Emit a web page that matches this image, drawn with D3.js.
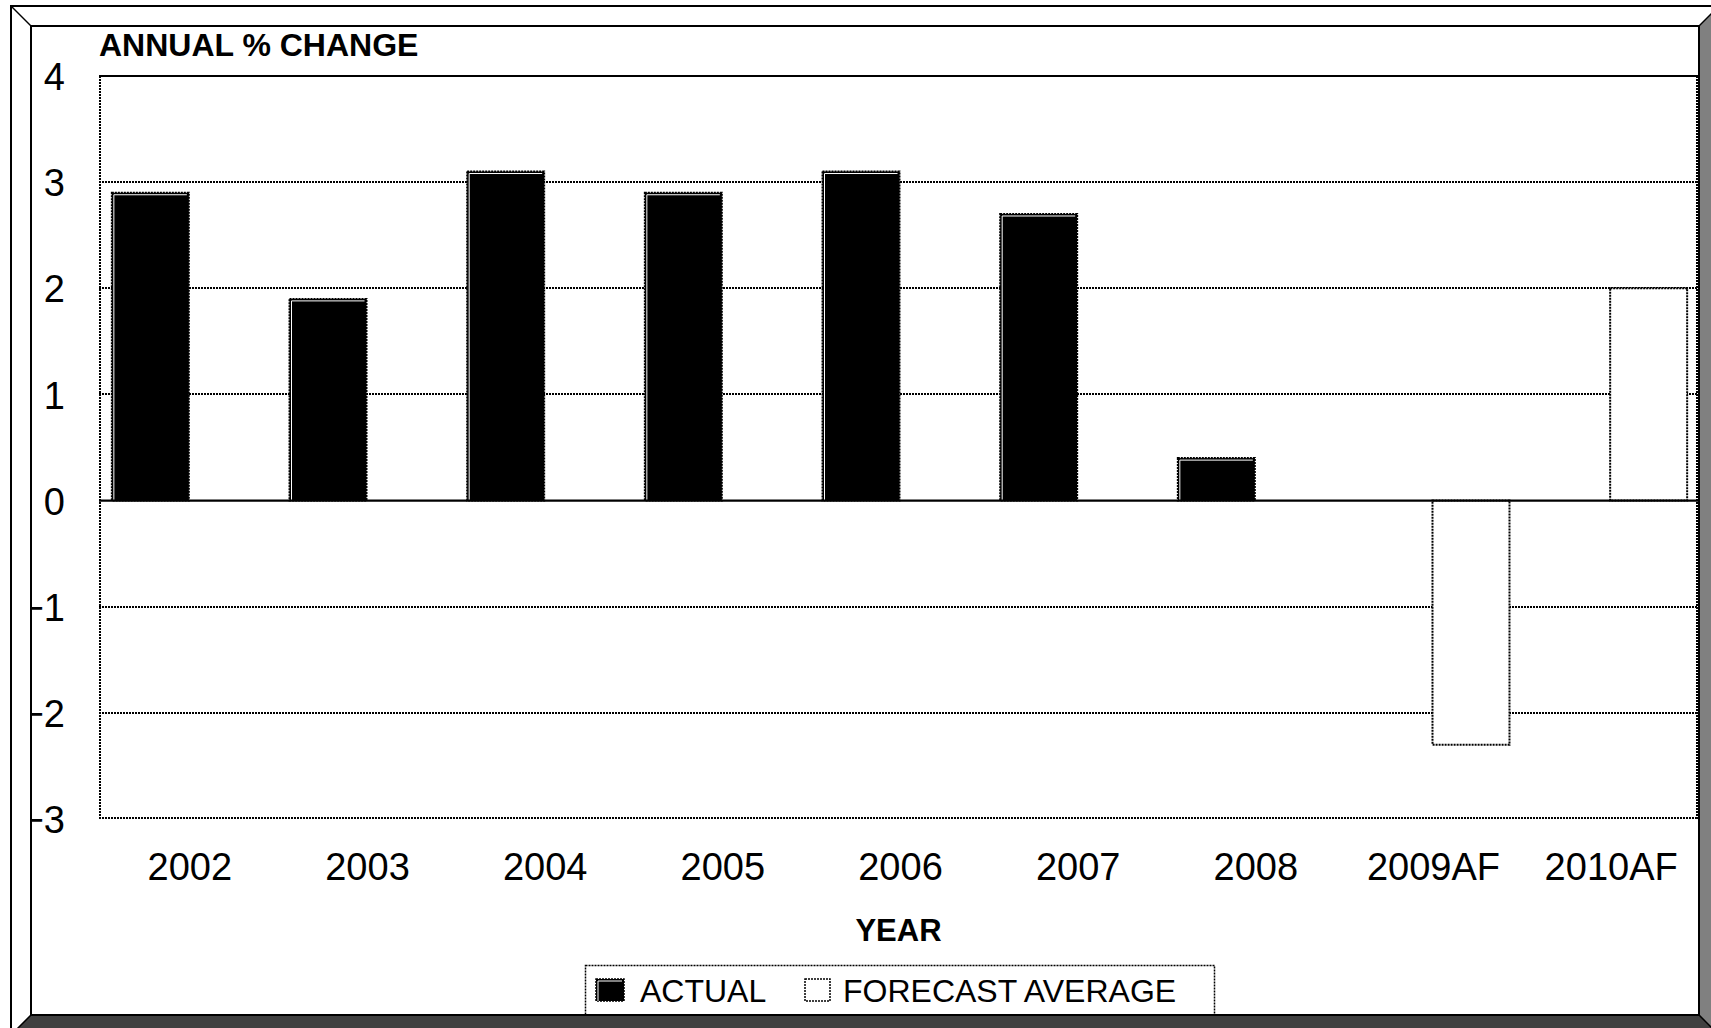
<!DOCTYPE html>
<html>
<head>
<meta charset="utf-8">
<script src="https://cdn.jsdelivr.net/npm/d3@7"></script>
<style>
  html, body { margin: 0; padding: 0; background: #fff; }
  svg { display: block; }
  text { font-family: "Liberation Sans", Arial, Helvetica, sans-serif; fill: #000; }
</style>
</head>
<body>
<svg id="chart" width="1711" height="1028"></svg>
<script>
// Annual % change, actual vs. forecast average
const years = ["2002", "2003", "2004", "2005", "2006", "2007", "2008", "2009AF", "2010AF"];
const actual = [2.9, 1.9, 3.1, 2.9, 3.1, 2.7, 0.4, null, null];
const forecastAverage = [null, null, null, null, null, null, null, -2.3, 2.0];
const yTicks = [4, 3, 2, 1, 0, -1, -2, -3];
const seriesNames = ["ACTUAL", "FORECAST AVERAGE"];

const W = 1711, H = 1028;
const svg = d3.select("#chart");
svg.append("rect").attr("width", W).attr("height", H).attr("fill", "#fff");

// plot area
const plot = { left: 99, right: 1698, top: 76, bottom: 819 };

const y = d3.scaleLinear().domain([-3, 4]).range([plot.bottom, plot.top]);
const x0 = d3.scaleBand().domain(years).range([plot.left + 1, plot.right + 1])
  .paddingInner(0.1333).paddingOuter(0.0667);
const x1 = d3.scaleBand().domain(["actual", "forecast"]).range([0, x0.bandwidth()]);

const dotted = "2,1";
const dotStroke = "#000";

// gridlines
const grid = svg.append("g");
grid.selectAll("line.grid")
  .data(yTicks.filter(t => t !== 0 && t !== 4 && t !== -3))
  .join("line")
  .attr("class", "grid")
  .attr("x1", plot.left).attr("x2", plot.right)
  .attr("y1", d => Math.round(y(d))).attr("y2", d => Math.round(y(d)))
  .attr("stroke", dotStroke).attr("stroke-width", 2).attr("stroke-dasharray", dotted);

// plot border: solid top, dotted sides and bottom
svg.append("line")
  .attr("x1", plot.left).attr("x2", plot.right)
  .attr("y1", y(4)).attr("y2", y(4))
  .attr("stroke", "#000").attr("stroke-width", 2);
svg.append("line")
  .attr("x1", plot.left + 1).attr("x2", plot.left + 1)
  .attr("y1", plot.top).attr("y2", plot.bottom)
  .attr("stroke", dotStroke).attr("stroke-width", 2).attr("stroke-dasharray", dotted);
svg.append("line")
  .attr("x1", plot.right - 1).attr("x2", plot.right - 1)
  .attr("y1", plot.top).attr("y2", plot.bottom)
  .attr("stroke", dotStroke).attr("stroke-width", 2).attr("stroke-dasharray", dotted);
svg.append("line")
  .attr("x1", plot.left).attr("x2", plot.right)
  .attr("y1", Math.round(y(-3)) - 1).attr("y2", Math.round(y(-3)) - 1)
  .attr("stroke", dotStroke).attr("stroke-width", 2).attr("stroke-dasharray", dotted);

// bars
const rows = years.map((yr, i) => ({ year: yr, actual: actual[i], forecast: forecastAverage[i] }));
const barG = svg.append("g");

rows.forEach(r => {
  if (r.actual != null) {
    const bx = x0(r.year) + x1("actual"), bw = x1.bandwidth();
    const top = y(Math.max(0, r.actual)), bot = y(Math.min(0, r.actual));
    barG.append("rect")
      .attr("x", bx).attr("y", top).attr("width", bw).attr("height", bot - top)
      .attr("fill", "#000").attr("stroke", "#000").attr("stroke-width", 2)
      .attr("stroke-dasharray", dotted);
    // light inner edge on the top and left sides
    barG.append("path")
      .attr("d", `M${bx + 2},${bot} V${top + 2} H${bx + bw - 2}`)
      .attr("fill", "none").attr("stroke", "#fff").attr("stroke-width", 1);
  }
  if (r.forecast != null) {
    const bx = x0(r.year) + x1("forecast"), bw = x1.bandwidth();
    const top = y(Math.max(0, r.forecast)), bot = y(Math.min(0, r.forecast));
    barG.append("rect")
      .attr("x", bx).attr("y", top).attr("width", bw).attr("height", bot - top)
      .attr("fill", "#fff").attr("stroke", "#000").attr("stroke-width", 2)
      .attr("stroke-dasharray", dotted);
  }
});

// zero line
svg.append("line")
  .attr("x1", plot.left).attr("x2", plot.right)
  .attr("y1", y(0)).attr("y2", y(0))
  .attr("stroke", "#000").attr("stroke-width", 2.2);

// y tick labels
const yAxis = d3.axisLeft(y).tickValues(yTicks).tickSize(0).tickPadding(0).tickFormat(d3.format("d"));
const yG = svg.append("g").attr("transform", "translate(65,0)").call(yAxis);
yG.select(".domain").remove();
yG.selectAll("text")
  .attr("font-size", 38).attr("dy", "0.36em")
  .attr("font-family", "'Liberation Sans', Arial, sans-serif").attr("fill", "#000");

// x tick labels
const xAxis = d3.axisBottom(x0).tickSize(0).tickPadding(0);
const xG = svg.append("g").attr("transform", "translate(1,880)").call(xAxis);
xG.select(".domain").remove();
xG.selectAll("text")
  .attr("font-size", 38).attr("dy", 0).attr("y", 0)
  .attr("font-family", "'Liberation Sans', Arial, sans-serif").attr("fill", "#000");

// titles
svg.append("text").attr("x", 99).attr("y", 56)
  .attr("font-size", 32).attr("font-weight", "bold").text("ANNUAL % CHANGE");
svg.append("text").attr("x", (plot.left + plot.right) / 2).attr("y", 941)
  .attr("text-anchor", "middle").attr("font-size", 31).attr("font-weight", "bold").text("YEAR");

// legend
const lg = svg.append("g");
lg.append("rect").attr("x", 585.5).attr("y", 965.5).attr("width", 629).attr("height", 60)
  .attr("fill", "#fff").attr("stroke", "#000").attr("stroke-width", 1.5).attr("stroke-dasharray", dotted);
const keys = [
  { name: seriesNames[0], kx: 596, kw: 28, tx: 640, fill: "#000" },
  { name: seriesNames[1], kx: 805, kw: 25, tx: 843, fill: "#fff" }
];
keys.forEach(k => {
  lg.append("rect").attr("x", k.kx).attr("y", 979).attr("width", k.kw).attr("height", 22)
    .attr("fill", k.fill).attr("stroke", "#000").attr("stroke-width", 1.5).attr("stroke-dasharray", dotted);
  if (k.fill === "#000") {
    lg.append("path").attr("d", `M${k.kx + 2},${1001} V${981} H${k.kx + k.kw - 2}`)
      .attr("fill", "none").attr("stroke", "#fff").attr("stroke-width", 1);
  }
  lg.append("text").attr("x", k.tx).attr("y", 1002).attr("font-size", 32).text(k.name);
});

// bevelled outer frame
const o = { l: 11, t: 6, r: 1719, b: 1035 };
const i = { l: 31, t: 26, r: 1699, b: 1015 };
const frame = svg.append("g");
frame.append("path").attr("d", `M${o.l},${o.t} L${o.r},${o.t} L${i.r},${i.t} L${i.l},${i.t} Z`).attr("fill", "#fff");
frame.append("path").attr("d", `M${o.l},${o.t} L${i.l},${i.t} L${i.l},${i.b} L${o.l},${o.b} Z`).attr("fill", "#fff");
frame.append("path").attr("d", `M${o.r},${o.t} L${o.r},${o.b} L${i.r},${i.b} L${i.r},${i.t} Z`).attr("fill", "#808080");
frame.append("path").attr("d", `M${o.l},${o.b} L${o.r},${o.b} L${i.r},${i.b} L${i.l},${i.b} Z`).attr("fill", "#404040");
frame.append("rect").attr("x", o.l).attr("y", o.t).attr("width", o.r - o.l).attr("height", o.b - o.t)
  .attr("fill", "none").attr("stroke", "#000").attr("stroke-width", 2);
frame.append("rect").attr("x", i.l).attr("y", i.t).attr("width", i.r - i.l).attr("height", i.b - i.t)
  .attr("fill", "none").attr("stroke", "#000").attr("stroke-width", 2);
[[o.l, o.t, i.l, i.t], [o.r, o.t, i.r, i.t], [o.l, o.b, i.l, i.b], [o.r, o.b, i.r, i.b]].forEach(c => {
  frame.append("line").attr("x1", c[0]).attr("y1", c[1]).attr("x2", c[2]).attr("y2", c[3])
    .attr("stroke", "#000").attr("stroke-width", 1.5);
});
</script>
</body>
</html>
